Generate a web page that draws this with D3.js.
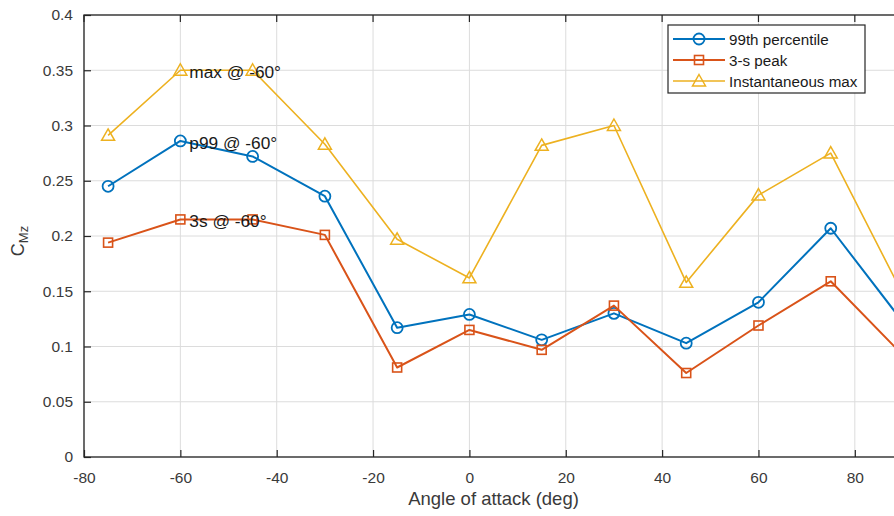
<!DOCTYPE html>
<html>
<head>
<meta charset="utf-8">
<script src="https://cdn.jsdelivr.net/npm/d3@7"></script>
<style>
  html, body { margin: 0; padding: 0; background: #fff; overflow: hidden; }
  svg { display: block; font-family: "Liberation Sans", Arial, sans-serif; }
</style>
</head>
<body>
<svg id="chart" width="894" height="516"></svg>
<script>
// Angle of attack (deg) at which each statistic was evaluated
const angles = [-75, -60, -45, -30, -15, 0, 15, 30, 45, 60, 75, 90];

// Yawing-moment coefficient statistics
const p99Values     = [0.245, 0.286, 0.272, 0.236, 0.117, 0.129, 0.106, 0.130, 0.103, 0.140, 0.207, 0.122];
const peak3sValues  = [0.194, 0.215, 0.215, 0.201, 0.081, 0.115, 0.097, 0.137, 0.076, 0.119, 0.159, 0.092];
const instMaxValues = [0.291, 0.350, 0.350, 0.283, 0.197, 0.162, 0.282, 0.300, 0.158, 0.237, 0.275, 0.147];

const seriesNames = ["99th percentile", "3-s peak", "Instantaneous max"];

// Axis ticks
const xTicks = [-80, -60, -40, -20, 0, 20, 40, 60, 80];
const yTicks = [0, 0.05, 0.1, 0.15, 0.2, 0.25, 0.3, 0.35, 0.4];

// Annotations placed next to the -60 deg points
const noteAngle = -60;
const noteTexts = ["max @ -60°", "p99 @ -60°", "3s @ -60°"];
const noteValues = [0.350, 0.286, 0.215];

const colors = { p99: "#0072BD", peak: "#D95319", max: "#EDB120" };
const axisColor = "#262626";

const svg = d3.select("#chart");

const x = d3.scaleLinear().domain([-80, 90]).range([84, 903]);
const y = d3.scaleLinear().domain([0, 0.4]).range([457, 15]);

const [x0, x1] = x.range();
const [yb, yt] = y.range();

// Grid
const grid = svg.append("g");
grid.selectAll("line.gx").data(xTicks).join("line")
  .attr("x1", d => x(d)).attr("x2", d => x(d))
  .attr("y1", yb).attr("y2", yt)
  .attr("stroke", "#dcdcdc").attr("stroke-width", 1);
grid.selectAll("line.gy").data(yTicks).join("line")
  .attr("y1", d => y(d)).attr("y2", d => y(d))
  .attr("x1", x0).attr("x2", x1)
  .attr("stroke", "#dcdcdc").attr("stroke-width", 1);

// Axes with inward ticks
const xAxis = d3.axisBottom(x).tickValues(xTicks).tickFormat(d => String(d))
  .tickSize(-7).tickPadding(15);
const yAxis = d3.axisLeft(y).tickValues(yTicks).tickFormat(d => d === 0 ? "0" : String(+d.toFixed(2)))
  .tickSize(-7).tickPadding(11);

const gx = svg.append("g").attr("transform", `translate(0,${yb})`).call(xAxis);
const gy = svg.append("g").attr("transform", `translate(${x0},0)`).call(yAxis);
[gx, gy].forEach(g => {
  g.select(".domain").remove();
  g.selectAll(".tick line").attr("stroke", axisColor).attr("stroke-width", 1.2);
  g.selectAll(".tick text").attr("fill", "#3a3a3a").style("font-size", "15.5px")
    .style("font-family", "'Liberation Sans', Arial, sans-serif");
});

// Top ticks (box on)
svg.append("g").selectAll("line").data(xTicks).join("line")
  .attr("x1", d => x(d)).attr("x2", d => x(d))
  .attr("y1", yt).attr("y2", yt + 7)
  .attr("stroke", axisColor).attr("stroke-width", 1.2);

// Axes box
svg.append("rect")
  .attr("x", x0).attr("y", yt).attr("width", x1 - x0).attr("height", yb - yt)
  .attr("fill", "none").attr("stroke", axisColor).attr("stroke-width", 1.3);

// Axis labels
svg.append("text")
  .attr("x", (x0 + x1) / 2).attr("y", 505)
  .attr("text-anchor", "middle")
  .attr("fill", "#3a3a3a").style("font-size", "18.5px")
  .text("Angle of attack (deg)");

const yl = svg.append("text")
  .attr("transform", `translate(24,241) rotate(-90)`)
  .attr("text-anchor", "middle")
  .attr("fill", "#3a3a3a").style("font-size", "18px");
yl.append("tspan").text("C");
yl.append("tspan").attr("dy", 4).style("font-size", "13px").text("Mz");

// Series
const series = [
  { name: seriesNames[0], values: p99Values, color: colors.p99, width: 2, marker: "circle" },
  { name: seriesNames[1], values: peak3sValues, color: colors.peak, width: 2, marker: "square" },
  { name: seriesNames[2], values: instMaxValues, color: colors.max, width: 1.6, marker: "triangle" }
];

const line = d3.line().x(d => x(d[0])).y(d => y(d[1]));

function drawMarker(g, type, cx, cy, color) {
  if (type === "circle") {
    g.append("circle").attr("cx", cx).attr("cy", cy).attr("r", 5.5)
      .attr("fill", "none").attr("stroke", color).attr("stroke-width", 1.8);
  } else if (type === "square") {
    g.append("rect").attr("x", cx - 4.5).attr("y", cy - 4.5).attr("width", 9).attr("height", 9)
      .attr("fill", "none").attr("stroke", color).attr("stroke-width", 1.6);
  } else {
    const s = 6.5;
    g.append("path")
      .attr("d", `M${cx},${cy - s}L${cx + s},${cy + s * 0.75}L${cx - s},${cy + s * 0.75}Z`)
      .attr("fill", "none").attr("stroke", color).attr("stroke-width", 1.5);
  }
}

const plot = svg.append("g");
series.forEach(s => {
  const pts = angles.map((a, i) => [a, s.values[i]]);
  plot.append("path").datum(pts).attr("d", line)
    .attr("fill", "none").attr("stroke", s.color).attr("stroke-width", s.width)
    .attr("stroke-linejoin", "round");
  const mg = plot.append("g");
  pts.forEach(p => drawMarker(mg, s.marker, x(p[0]), y(p[1]), s.color));
});

// Annotations
noteTexts.forEach((t, i) => {
  svg.append("text")
    .attr("x", x(noteAngle) + 9).attr("y", y(noteValues[i]) + 2)
    .attr("dominant-baseline", "central")
    .attr("fill", "#1a1a1a").style("font-size", "17.3px")
    .text(t);
});

// Legend
const lg = svg.append("g");
lg.append("rect").attr("x", 668).attr("y", 25).attr("width", 197).attr("height", 68)
  .attr("fill", "#fff").attr("stroke", axisColor).attr("stroke-width", 1.2);
series.forEach((s, i) => {
  const ly = 39 + i * 21;
  lg.append("line").attr("x1", 673).attr("x2", 725).attr("y1", ly).attr("y2", ly)
    .attr("stroke", s.color).attr("stroke-width", s.width);
  drawMarker(lg, s.marker, 699, ly, s.color);
  lg.append("text").attr("x", 729).attr("y", ly).attr("dominant-baseline", "central")
    .attr("fill", "#1a1a1a").style("font-size", "15.2px").text(s.name);
});
</script>
</body>
</html>
